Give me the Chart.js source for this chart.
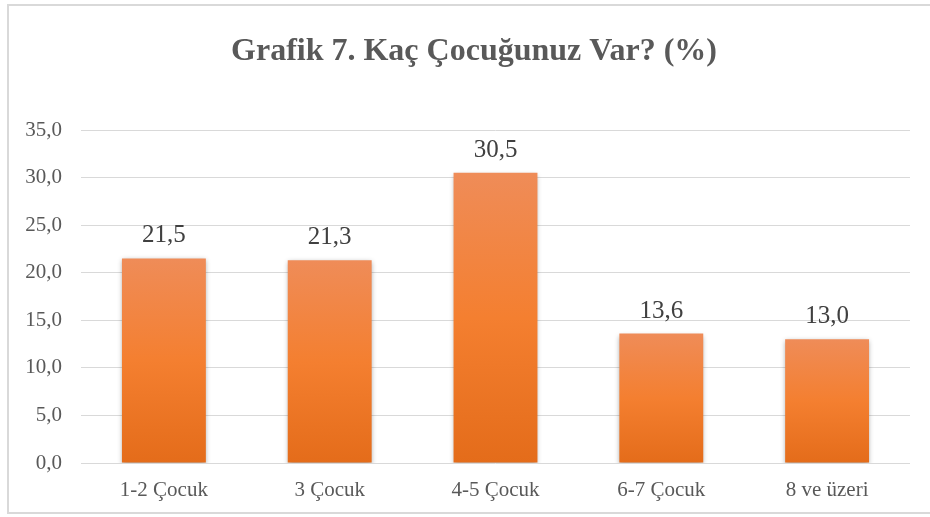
<!DOCTYPE html>
<html>
<head>
<meta charset="utf-8">
<script src="https://cdn.jsdelivr.net/npm/chart.js@4/dist/chart.umd.min.js"></script>
<style>
  html, body { margin: 0; padding: 0; background: #fff; }
  #wrap { position: relative; width: 930px; height: 517px; overflow: hidden; }
  #frame { position: absolute; left: 7px; top: 4px; width: 940px; height: 510px; border: 2px solid #d9d9d9; box-sizing: border-box; pointer-events: none; }
  canvas { position: absolute; left: 0; top: 0; }
</style>
</head>
<body>
<div id="wrap">
  <canvas id="c" width="930" height="517"></canvas>
  <div id="frame"></div>
</div>
<script>
const titleText = 'Grafik 7. Kaç Çocuğunuz Var? (%)';
const categories = ['1-2 Çocuk', '3 Çocuk', '4-5 Çocuk', '6-7 Çocuk', '8 ve üzeri'];
const values = [21.5, 21.3, 30.5, 13.6, 13.0];
const yMin = 0, yMax = 35, yStep = 5;

const fmt = v => Number(v).toFixed(1).replace('.', ',');
const SERIF = '"Liberation Serif", "Times New Roman", serif';

const barGradient = (c) => {
  const chart = c.chart;
  const ys = chart.scales && chart.scales.y;
  if (!ys || !chart.chartArea) return '#F37D2D';
  const top = ys.getPixelForValue(c.raw);
  const base = ys.getPixelForValue(0);
  const g = chart.ctx.createLinearGradient(0, top, 0, base);
  g.addColorStop(0, '#EF8C58');
  g.addColorStop(0.5, '#F47F30');
  g.addColorStop(1, '#E46C1A');
  return g;
};

// let the y tick labels extend into the left padding (avoid clipping)
const unclipPlugin = {
  id: 'unclipY',
  afterLayout(chart) {
    if (chart.scales.y) chart.scales.y.left = 0;
  }
};

const shadowPlugin = {
  id: 'barShadow',
  beforeDatasetsDraw(chart) {
    const ctx = chart.ctx;
    ctx.save();
    ctx.shadowColor = 'rgba(0,0,0,0.35)';
    ctx.shadowBlur = 5;
    ctx.shadowOffsetX = 0;
    ctx.shadowOffsetY = 2;
  },
  afterDatasetsDraw(chart) {
    chart.ctx.restore();
  }
};

const labelPlugin = {
  id: 'valueLabels',
  afterDatasetsDraw(chart) {
    const ctx = chart.ctx;
    const meta = chart.getDatasetMeta(0);
    ctx.save();
    ctx.font = '25px ' + SERIF;
    ctx.fillStyle = '#404040';
    ctx.textAlign = 'center';
    ctx.textBaseline = 'alphabetic';
    meta.data.forEach((el, i) => {
      ctx.fillText(fmt(values[i]), el.x, el.y - 16);
    });
    ctx.restore();
  }
};

new Chart(document.getElementById('c'), {
  type: 'bar',
  data: {
    labels: categories,
    datasets: [{
      data: values,
      backgroundColor: barGradient,
      borderWidth: 0,
      barPercentage: 0.506,
      categoryPercentage: 1.0
    }]
  },
  plugins: [unclipPlugin, shadowPlugin, labelPlugin],
  options: {
    responsive: false,
    animation: false,
    devicePixelRatio: 1,
    layout: { padding: { left: 38, right: 20, top: 0, bottom: 0 } },
    plugins: {
      legend: { display: false },
      tooltip: { enabled: false },
      title: {
        display: true,
        text: titleText,
        color: '#595959',
        font: { family: SERIF, size: 32, weight: 'bold', lineHeight: 1.2 },
        padding: { top: 33, bottom: 58.6 }
      }
    },
    scales: {
      x: {
        grid: { display: false, drawTicks: false },
        border: { display: false },
        ticks: {
          color: '#595959',
          font: { family: SERIF, size: 21 },
          padding: 15
        },
        afterFit: (s) => { s.height = 54; }
      },
      y: {
        min: yMin,
        max: yMax,
        grid: { color: '#d9d9d9', lineWidth: 1, drawTicks: false },
        border: { display: false },
        ticks: {
          stepSize: yStep,
          color: '#595959',
          font: { family: SERIF, size: 21 },
          padding: 19,
          callback: (v) => fmt(v)
        },
        afterFit: (s) => { s.width = 43; }
      }
    }
  }
});
</script>
</body>
</html>
